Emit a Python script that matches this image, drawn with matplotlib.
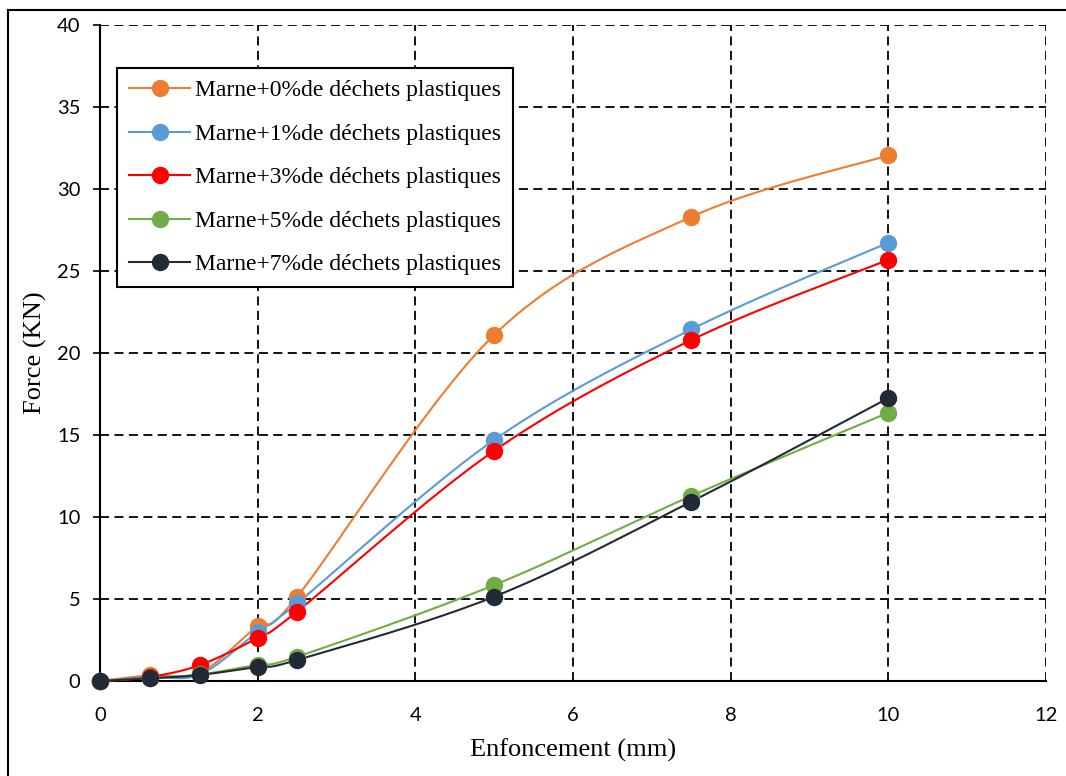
import numpy as np
import matplotlib
matplotlib.use("Agg")
import matplotlib.pyplot as plt
from matplotlib.lines import Line2D

# Penetration depths (mm) and measured forces (kN)
enfoncement = [0, 0.635, 1.27, 2.0, 2.5, 5.0, 7.5, 10.0]
force_0 = [0, 0.35, 0.50, 3.37, 5.14, 21.1, 28.3, 32.05]
force_1 = [0, 0.25, 0.40, 3.00, 4.74, 14.7, 21.44, 26.73]
force_3 = [0, 0.25, 0.98, 2.64, 4.23, 14.04, 20.79, 25.68]
force_5 = [0, 0.20, 0.40, 1.00, 1.48, 5.85, 11.28, 16.36]
force_7 = [0, 0.16, 0.37, 0.87, 1.28, 5.14, 10.93, 17.25]

series_labels = [
    "Marne+0%de déchets plastiques",
    "Marne+1%de déchets plastiques",
    "Marne+3%de déchets plastiques",
    "Marne+5%de déchets plastiques",
    "Marne+7%de déchets plastiques",
]
series_colors = ["#ED7D31", "#5B9BD5", "#FF0000", "#70AD47", "#222A35"]
x_ticks = [0, 2, 4, 6, 8, 10, 12]
y_ticks = [0, 5, 10, 15, 20, 25, 30, 35, 40]


def smooth_curve(xs, ys, sx, sy, n=40):
    """Cubic Bezier smoothing through points (Catmull-Rom style control points)."""
    px = np.asarray(xs, float) * sx
    py = np.asarray(ys, float) * sy
    pts = np.column_stack([px, py])
    m = len(pts)
    out = [pts[0]]
    t = np.linspace(0, 1, n)[1:, None]
    for i in range(m - 1):
        p0 = pts[max(i - 1, 0)]
        p1 = pts[i]
        p2 = pts[i + 1]
        p3 = pts[min(i + 2, m - 1)]
        c1 = p1 + (p2 - p0) / 6.0
        c2 = p2 - (p3 - p1) / 6.0
        seg = ((1 - t) ** 3) * p1 + 3 * ((1 - t) ** 2) * t * c1 \
            + 3 * (1 - t) * t ** 2 * c2 + t ** 3 * p2
        out.extend(seg)
    out = np.array(out)
    return out[:, 0] / sx, out[:, 1] / sy


fig = plt.figure(figsize=(10.66, 7.76), dpi=100)
ax = fig.add_axes([100 / 1066, 1 - 681 / 776, 946 / 1066, 656 / 776])

serif = "Liberation Serif"
sans = "Lato"

all_series = [force_0, force_1, force_3, force_5, force_7]
sx, sy = 946 / 12.0, 656 / 40.0
for ys, lab, col in zip(all_series, series_labels, series_colors):
    cx, cy = smooth_curve(enfoncement, ys, sx, sy)
    ax.plot(cx, cy, color=col, lw=1.5, clip_on=False, zorder=3)
    ax.plot(enfoncement, ys, 'o', color=col, ms=11.5, clip_on=False, zorder=4)

ax.set_xlim(0, 12)
ax.set_ylim(0, 40)
ax.set_xticks(x_ticks)
ax.set_yticks(y_ticks)
ax.set_xticklabels([str(v) for v in x_ticks], fontfamily=sans, fontsize=14.5)
ax.set_yticklabels([str(v) for v in y_ticks], fontfamily=sans, fontsize=14.5)
ax.tick_params(axis='x', length=0, pad=19)
ax.tick_params(axis='y', length=5, width=1.2, direction='out', pad=9)

ax.grid(True, color='black', linestyle=(0, (5, 3)), linewidth=1.3, zorder=1)
ax.set_axisbelow(True)
for s in ['top', 'right']:
    ax.spines[s].set_visible(False)
for s in ['left', 'bottom']:
    ax.spines[s].set_linewidth(1.5)
    ax.spines[s].set_zorder(2)

ax.set_xlabel("Enfoncement (mm)", fontfamily=serif, fontsize=19, labelpad=10)
ax.set_ylabel("Force (KN)", fontfamily=serif, fontsize=19, labelpad=7)

handles = [Line2D([0], [0], color=c, lw=1.5, marker='o', ms=11.5) for c in series_colors]
leg = ax.legend(handles, series_labels, loc='upper left',
                bbox_to_anchor=(17 / 946, 1 - 43 / 656),
                prop={'family': serif, 'size': 17}, frameon=True, fancybox=False,
                edgecolor='black', framealpha=1, handlelength=2.6, handletextpad=0.2,
                labelspacing=0.93, borderpad=0.5, borderaxespad=0)
leg.get_frame().set_linewidth(1.5)
leg.set_zorder(5)

# Chart-area border (left and top edges)
fig.add_artist(Line2D([8 / 1066, 8 / 1066], [0, 1 - 10 / 776], color='black', lw=1.5,
                      transform=fig.transFigure))
fig.add_artist(Line2D([8 / 1066, 1], [1 - 10 / 776, 1 - 10 / 776], color='black', lw=1.5,
                      transform=fig.transFigure))

fig.savefig("out.png", dpi=100)
